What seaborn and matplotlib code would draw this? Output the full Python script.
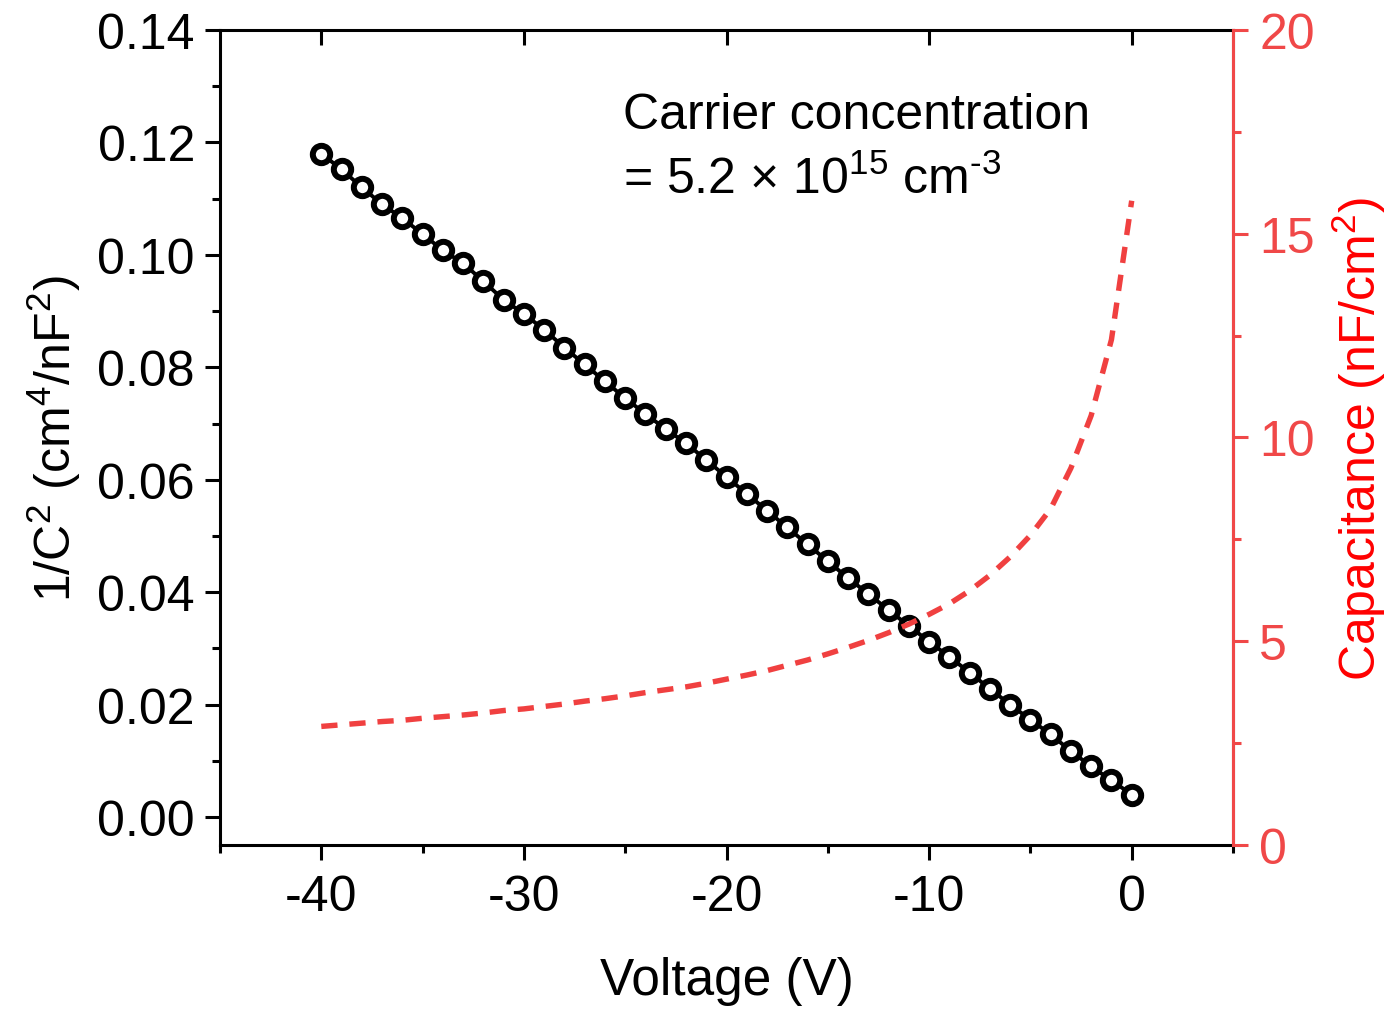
import numpy as np
import pandas as pd
import matplotlib
matplotlib.use("Agg")
import matplotlib.pyplot as plt
from matplotlib.ticker import MultipleLocator, FuncFormatter, FormatStrFormatter
import seaborn as sns

voltage = [-40, -39, -38, -37, -36, -35, -34, -33, -32, -31, -30, -29, -28, -27,
           -26, -25, -24, -23, -22, -21, -20, -19, -18, -17, -16, -15, -14, -13,
           -12, -11, -10, -9, -8, -7, -6, -5, -4, -3, -2, -1, 0]
inv_c2 = [0.1180, 0.1152, 0.1120, 0.1090, 0.1065, 0.1037, 0.1008, 0.0985, 0.0953,
          0.0920, 0.0895, 0.0867, 0.0835, 0.0805, 0.0775, 0.0745, 0.0717, 0.0690,
          0.0665, 0.0635, 0.0605, 0.0575, 0.0545, 0.0515, 0.0485, 0.0455, 0.0425,
          0.0397, 0.0368, 0.0340, 0.0312, 0.0285, 0.0257, 0.0228, 0.0200, 0.0173,
          0.0147, 0.0117, 0.0090, 0.0065, 0.0040]
capacitance = [2.91, 2.95, 2.99, 3.03, 3.06, 3.11, 3.15, 3.19, 3.24, 3.30, 3.34,
               3.40, 3.46, 3.53, 3.59, 3.66, 3.74, 3.81, 3.88, 3.97, 4.07, 4.17,
               4.28, 4.41, 4.54, 4.69, 4.85, 5.02, 5.21, 5.42, 5.66, 5.92, 6.24,
               6.62, 7.07, 7.60, 8.25, 9.25, 10.54, 12.40, 15.81]

sns.set_style("ticks")
plt.rcParams['font.family'] = ['Liberation Sans', 'DejaVu Sans']
plt.rcParams['mathtext.fontset'] = 'custom'
plt.rcParams['mathtext.rm'] = 'Liberation Sans'
plt.rcParams['mathtext.it'] = 'Liberation Sans'
plt.rcParams['mathtext.default'] = 'regular'
plt.rcParams['text.color'] = 'black'
plt.rcParams['axes.labelcolor'] = 'black'
plt.rcParams['xtick.color'] = 'black'
plt.rcParams['ytick.color'] = 'black'

df = pd.DataFrame({"V": voltage, "invC2": inv_c2, "C": capacitance})

RED_AX = '#F04848'
fig = plt.figure(figsize=(13.95, 10.12), dpi=100)
ax = fig.add_axes([220/1395, 1-846/1012, (1233-220)/1395, (846-31)/1012])

sns.lineplot(data=df, x="V", y="invC2", ax=ax, color='black', linewidth=2.8,
             marker='o', markersize=12.5, markerfacecolor='white',
             markeredgecolor='black', markeredgewidth=4.3, zorder=3)

ax2 = ax.twinx()
sns.lineplot(data=df, x="V", y="C", ax=ax2, color='#F04040', linewidth=3.9)
ax2.lines[0].set_dashes([3.0, 2.2])

ax.set_xlim(-45, 5)
ax2.set_ylim(0, 20)
# left 0.00 sits at pixel 818, right 0 at the bottom (846)
ax.set_ylim(-0.14 * 28 / 787, 0.14)

ax.xaxis.set_major_locator(MultipleLocator(10))
ax.xaxis.set_minor_locator(MultipleLocator(5))
ax.yaxis.set_major_locator(MultipleLocator(0.02))
ax.yaxis.set_minor_locator(MultipleLocator(0.01))
ax2.yaxis.set_major_locator(MultipleLocator(5))
ax2.yaxis.set_minor_locator(MultipleLocator(2.5))
ax.yaxis.set_major_formatter(FormatStrFormatter('%.2f'))
ax.xaxis.set_major_formatter(FuncFormatter(lambda v, p: f"{int(round(v))}"))
ax2.yaxis.set_major_formatter(FuncFormatter(lambda v, p: f"{int(round(v))}"))

for sp in ax.spines.values():
    sp.set_linewidth(2.2)
    sp.set_color('black')
for sp in ax2.spines.values():
    sp.set_linewidth(2.2)
ax2.spines['right'].set_color(RED_AX)
ax2.spines['left'].set_visible(False)
ax2.spines['top'].set_visible(False)
ax2.spines['bottom'].set_visible(False)

ax.tick_params(axis='both', which='major', direction='out', length=11, width=2.2,
               labelsize=36, pad=7, colors='black')
ax.tick_params(axis='both', which='minor', direction='out', length=6, width=2.2)
ax.tick_params(axis='x', which='major', top=True, pad=10)
ax.tick_params(axis='x', which='minor', top=False)
for t in ax.xaxis.get_major_ticks():
    t.tick2line.set_marker(matplotlib.lines.TICKDOWN)

ax2.tick_params(axis='y', which='major', direction='out', length=11, width=2.2,
                labelsize=36, pad=8, colors=RED_AX)
ax2.tick_params(axis='y', which='minor', direction='out', length=6, width=2.2,
                colors=RED_AX)

ax.set_xlabel("Voltage (V)", fontsize=37, labelpad=26)
ax.set_ylabel(r"1/C$^2$ (cm$^4$/nF$^2$)", fontsize=36, labelpad=10)
ax2.set_ylabel(r"Capacitance (nF/cm$^2$)", fontsize=36, color='#FF0000', labelpad=11)

ax.text(0.398, 0.880, "Carrier concentration", transform=ax.transAxes,
        fontsize=36, ha='left', va='baseline')
ax.text(0.398, 0.800, r"= 5.2 $\times$ 10$^{15}$ cm$^{\text{-3}}$",
        transform=ax.transAxes, fontsize=36, ha='left', va='baseline')

fig.savefig("out.png", dpi=100)
